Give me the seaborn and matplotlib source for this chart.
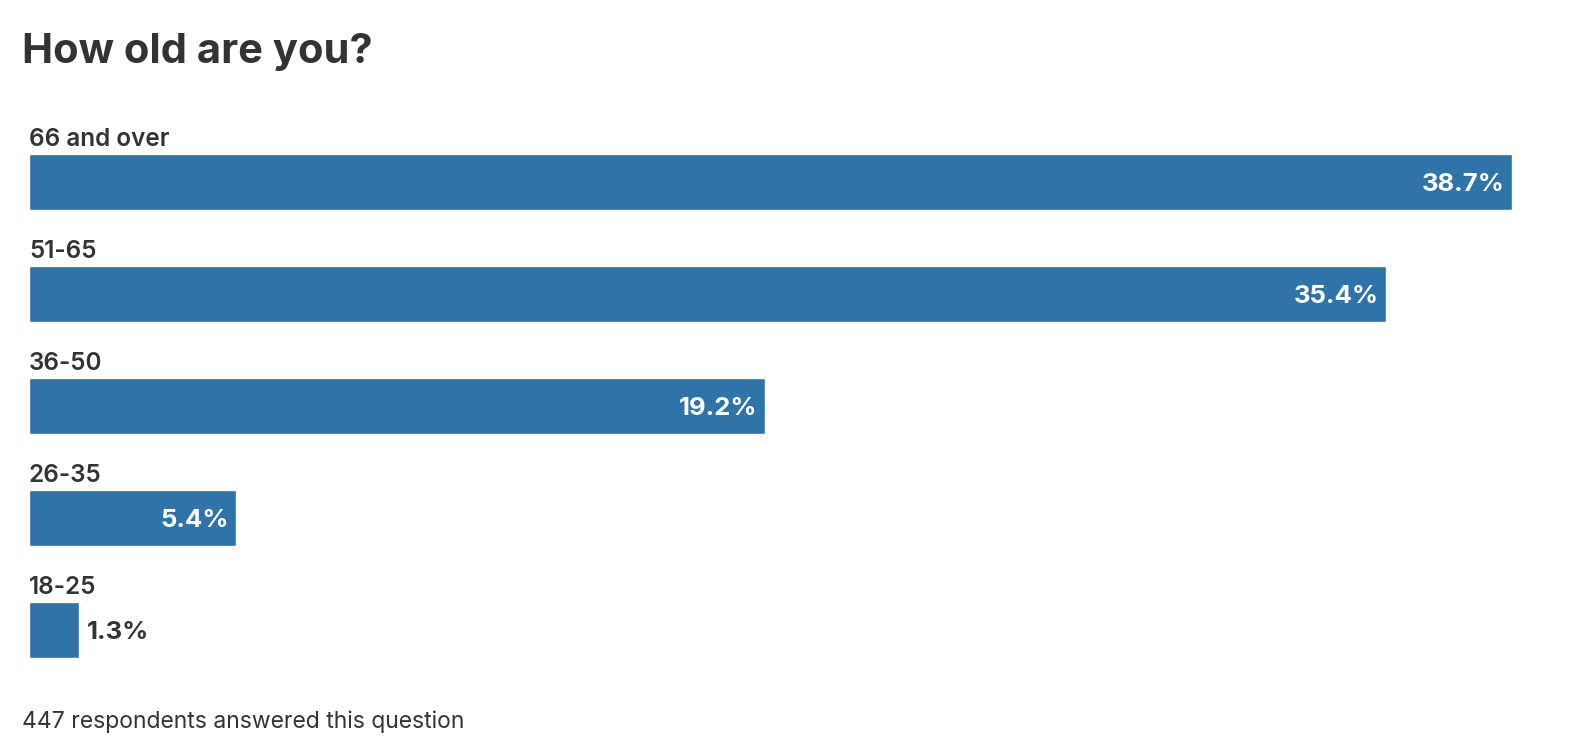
# -*- coding: utf-8 -*-
import numpy as np
import pandas as pd
import seaborn as sns
from matplotlib import pyplot as plt

# survey answers, top to bottom
age_groups = ['66 and over', '51-65', '36-50', '26-35', '18-25']
shares = [38.7, 35.4, 19.2, 5.4, 1.3]
title = 'How old are you?'
footer = '447 respondents answered this question'

df = pd.DataFrame({'age': age_groups, 'share': shares})

sns.set_theme(style='white')
plt.rcParams['font.family'] = ['Inter', 'DejaVu Sans']

bar_col = '#2f74a8'
txt_col = '#333333'

W, H = 1588, 756
fig = plt.figure(figsize=(W / 100, H / 100), dpi=100)
fig.patch.set_facecolor('white')

# axes placed in pixels: bars start at x=29, top bar centred at y=182
ax = fig.add_axes([29 / W, 1 - 686 / H, (1512 - 29) / W, 560 / H])
sns.barplot(data=df, x='share', y='age', order=age_groups, color=bar_col,
            width=0.5, saturation=1, ax=ax)
ax.set_xlim(0, max(shares))
ax.set_ylim(len(age_groups) - 0.5, -0.5)
ax.set_axis_off()

pt = 0.72  # one pixel in points at dpi 100
for i, (lab, val) in enumerate(zip(age_groups, shares)):
    ax.annotate(lab, xy=(0, i - 0.25), xytext=(0, 8 * pt),
                textcoords='offset points', ha='left', va='baseline',
                fontsize=17.5, fontweight='semibold', color=txt_col,
                annotation_clip=False)
    s = f'{val:.1f}%'
    if val > 3:
        ax.annotate(s, xy=(val, i), xytext=(-7 * pt, -9 * pt),
                    textcoords='offset points', ha='right', va='baseline',
                    fontsize=18.5, fontweight='bold', color='white')
    else:
        ax.annotate(s, xy=(val, i), xytext=(8 * pt, -9 * pt),
                    textcoords='offset points', ha='left', va='baseline',
                    fontsize=18.5, fontweight='bold', color=txt_col)

fig.text(22 / W, 1 - 63 / H, title, ha='left', va='baseline',
         fontsize=30, fontweight='bold', color=txt_col)
fig.text(22 / W, 1 - 728 / H, footer, ha='left', va='baseline',
         fontsize=16.5, color=txt_col)

fig.savefig('out.png', dpi=100, facecolor='white')
